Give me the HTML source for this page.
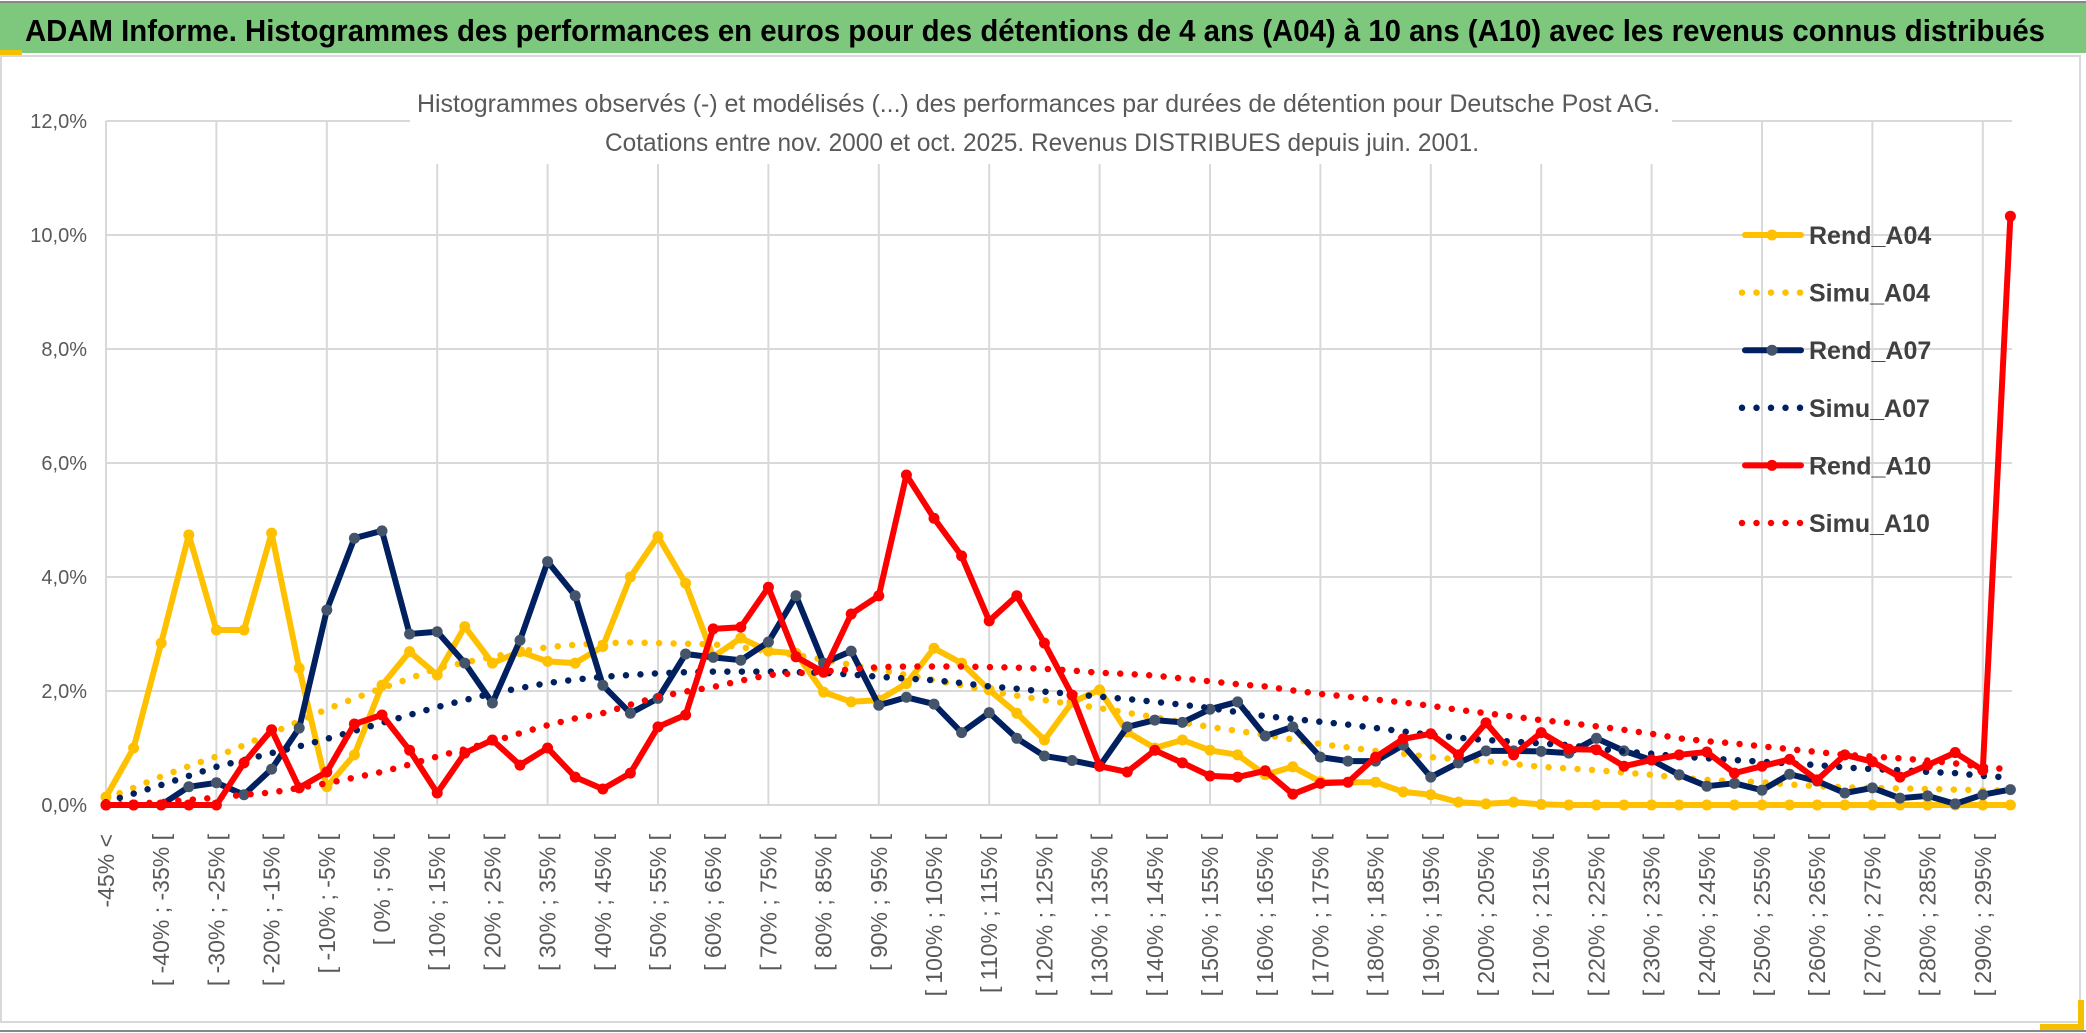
<!DOCTYPE html>
<html><head><meta charset="utf-8">
<style>
html,body{margin:0;padding:0;background:#fff;}
svg{display:block;font-family:"Liberation Sans",sans-serif;}
</style></head>
<body>
<svg id="chart" width="2086" height="1033" viewBox="0 0 2086 1033" xmlns="http://www.w3.org/2000/svg">
  <rect x="0" y="0" width="2086" height="1033" fill="#fff"/>
  <rect x="0" y="3" width="2086" height="50" fill="#7ec87e"/>
  <line x1="0" y1="2" x2="2086" y2="2" stroke="#888" stroke-width="2"/>
  <rect x="0" y="50" width="22" height="5" fill="#f5c000"/>
  <text x="25" y="41" font-size="31" font-weight="bold" fill="#000" textLength="2020" lengthAdjust="spacingAndGlyphs">ADAM Informe. Histogrammes des performances en euros pour des détentions de 4 ans (A04) à 10 ans (A10) avec les revenus connus distribués</text>
  <rect x="1" y="56" width="2079" height="966" fill="none" stroke="#d9d9d9" stroke-width="2"/>
  <line x1="0" y1="1031" x2="2086" y2="1031" stroke="#888" stroke-width="2"/>
  <rect x="2078" y="1000" width="6" height="30" fill="#f5c000"/>
  <rect x="2040" y="1024" width="44" height="6" fill="#f5c000"/>
  <g id="grid"></g>
  <rect x="410" y="76" width="1262" height="88" fill="#fff"/>
  <text x="417" y="112" font-size="25" fill="#595959" textLength="1243" lengthAdjust="spacingAndGlyphs">Histogrammes observés (-) et modélisés (...) des performances par durées de détention pour Deutsche Post AG.</text>
  <text x="605" y="151" font-size="25" fill="#595959" textLength="874" lengthAdjust="spacingAndGlyphs">Cotations entre nov. 2000 et oct. 2025. Revenus DISTRIBUES depuis juin. 2001.</text>
  <g id="yaxis"></g>
  <g id="xaxis"></g>
  <g id="series"></g>
  <g id="legend"></g>
</svg>
<script>
const categories = [];
categories.push('-45% <');
for (let v = -45; v < 300; v += 5) { categories.push('[ ' + v + '% ; ' + (v + 5) + '% ['); }
categories.length = 70;

const yTicks = [0, 2, 4, 6, 8, 10, 12];
const yTickLabels = ['0,0%', '2,0%', '4,0%', '6,0%', '8,0%', '10,0%', '12,0%'];

const rendA04 = [0.14,1.0,2.84,4.74,3.07,3.07,4.77,2.4,0.32,0.88,2.1,2.69,2.28,3.13,2.49,2.69,2.52,2.49,2.78,4.0,4.71,3.89,2.6,2.93,2.70,2.66,1.98,1.81,1.84,2.13,2.75,2.49,2.02,1.61,1.14,1.80,2.02,1.28,1.0,1.14,0.96,0.88,0.53,0.67,0.41,0.40,0.40,0.23,0.18,0.05,0.02,0.05,0.01,0,0,0,0,0,0,0,0,0,0,0,0,0,0,0,0,0];
const simuA04 = [0.12,0.3,0.5,0.68,0.85,1.05,1.26,1.47,1.68,1.87,2.05,2.22,2.4,2.5,2.6,2.69,2.77,2.81,2.84,2.85,2.84,2.83,2.82,2.77,2.7,2.63,2.55,2.46,2.37,2.28,2.19,2.1,2.0,1.92,1.84,1.77,1.70,1.62,1.54,1.45,1.37,1.3,1.23,1.15,1.07,1.01,0.95,0.9,0.84,0.8,0.77,0.72,0.67,0.64,0.61,0.57,0.53,0.48,0.44,0.42,0.40,0.36,0.33,0.31,0.30,0.29,0.28,0.27,0.26,0.25];
const rendA07 = [0,0,0,0.32,0.39,0.18,0.63,1.35,3.42,4.68,4.81,3.0,3.04,2.49,1.79,2.89,4.27,3.67,2.1,1.61,1.87,2.65,2.59,2.54,2.86,3.67,2.49,2.70,1.75,1.89,1.77,1.27,1.62,1.17,0.86,0.78,0.68,1.37,1.49,1.45,1.68,1.81,1.21,1.37,0.84,0.77,0.77,1.05,0.49,0.74,0.95,0.95,0.94,0.91,1.17,0.95,0.79,0.53,0.33,0.38,0.26,0.54,0.42,0.21,0.30,0.12,0.16,0.02,0.18,0.27];
const simuA07 = [0.05,0.2,0.35,0.51,0.67,0.79,0.91,1.03,1.16,1.3,1.44,1.58,1.72,1.84,1.96,2.05,2.14,2.2,2.25,2.28,2.31,2.33,2.34,2.34,2.34,2.33,2.32,2.29,2.25,2.22,2.19,2.14,2.08,2.04,1.99,1.95,1.9,1.86,1.81,1.76,1.70,1.63,1.56,1.51,1.46,1.41,1.35,1.29,1.23,1.18,1.14,1.11,1.08,1.05,0.99,0.94,0.9,0.85,0.82,0.79,0.76,0.73,0.7,0.66,0.63,0.61,0.58,0.56,0.51,0.48];
const rendA10 = [0,0,0,0,0,0.74,1.32,0.3,0.58,1.42,1.58,0.96,0.21,0.91,1.14,0.70,1.0,0.49,0.28,0.56,1.37,1.58,3.09,3.12,3.82,2.6,2.33,3.35,3.67,5.79,5.03,4.37,3.23,3.67,2.84,1.93,0.68,0.58,0.96,0.74,0.51,0.49,0.6,0.19,0.38,0.40,0.84,1.16,1.25,0.88,1.44,0.88,1.27,0.98,0.97,0.68,0.79,0.88,0.93,0.56,0.68,0.80,0.44,0.88,0.76,0.49,0.70,0.92,0.61,10.33];
const simuA10 = [0.0,0.02,0.05,0.09,0.13,0.18,0.22,0.3,0.38,0.48,0.58,0.71,0.85,0.98,1.11,1.26,1.4,1.52,1.61,1.76,1.9,1.99,2.07,2.18,2.28,2.31,2.34,2.38,2.42,2.43,2.43,2.43,2.42,2.41,2.39,2.36,2.32,2.3,2.27,2.22,2.17,2.12,2.08,2.01,1.95,1.9,1.85,1.8,1.74,1.67,1.61,1.55,1.49,1.44,1.38,1.32,1.25,1.17,1.12,1.08,1.03,0.98,0.93,0.88,0.85,0.82,0.78,0.73,0.67,0.62];

const seriesNames = ['Rend_A04','Simu_A04','Rend_A07','Simu_A07','Rend_A10','Simu_A10'];

const NS = 'http://www.w3.org/2000/svg';
const plotL = 106, plotR = 2012, plotT = 121, plotB = 805;
const step = 27.6;
const yMax = 12;
function xs(i) { return plotL + i * step; }
function ys(v) { return plotB - (v / yMax) * (plotB - plotT); }
function mk(tag, attrs, parent) {
  const el = document.createElementNS(NS, tag);
  for (const k in attrs) el.setAttribute(k, attrs[k]);
  parent.appendChild(el);
  return el;
}

const grid = document.getElementById('grid');
yTicks.forEach((t) => {
  const l = mk('line', {x1: plotL, x2: plotR, y1: ys(t), y2: ys(t), stroke: '#d9d9d9', 'stroke-width': 2}, grid);
  
  
});
for (let i = 0; i < categories.length; i += 4) {
  const l = mk('line', {x1: xs(i), x2: xs(i), y1: plotT, y2: plotB, stroke: '#d9d9d9', 'stroke-width': 2}, grid);
  
  
}

const yaxis = document.getElementById('yaxis');
yTicks.forEach((t, i) => {
  const tx = mk('text', {x: 87, y: ys(t) + 7, 'font-size': 20, fill: '#595959', 'text-anchor': 'end'}, yaxis);
  tx.textContent = yTickLabels[i];
  
  
});

const xaxis = document.getElementById('xaxis');
categories.forEach((c, i) => {
  if (i % 2 !== 0) return;
  const x = xs(i) + 8;
  const tx = mk('text', {x: x, y: 834, 'font-size': 23, fill: '#595959', 'text-anchor': 'end', transform: 'rotate(-90 ' + x + ' 834)'}, xaxis);
  tx.textContent = c;
  
  
});

const seriesG = document.getElementById('series');
function pts(arr) { return arr.map((v, i) => xs(i).toFixed(1) + ',' + ys(v).toFixed(1)).join(' '); }
function drawRend(arr, color, markerColor, name) {
  const g = mk('g', {}, seriesG);
  
  
  mk('polyline', {points: pts(arr), fill: 'none', stroke: color, 'stroke-width': 6, 'stroke-linejoin': 'round'}, g);
  arr.forEach((v, i) => {
    const c = mk('circle', {cx: xs(i), cy: ys(v), r: 5.5, fill: markerColor}, g);
    
    
  });
}
function drawSimu(arr, color, name) {
  const p = mk('polyline', {points: pts(arr), fill: 'none', stroke: color, 'stroke-width': 6.5, 'stroke-linecap': 'round', 'stroke-dasharray': '0 14.5'}, seriesG);
  
  
}
drawRend(rendA04, '#ffc000', '#ffc000', 'rend-a04-line');
drawSimu(simuA04, '#ffc000', 'simu-a04-line');
drawRend(rendA07, '#002060', '#44546a', 'rend-a07-line');
drawSimu(simuA07, '#002060', 'simu-a07-line');
drawRend(rendA10, '#ff0000', '#ff0000', 'rend-a10-line');
drawSimu(simuA10, '#ff0000', 'simu-a10-line');

const legend = document.getElementById('legend');
const legColors = ['#ffc000','#ffc000','#002060','#002060','#ff0000','#ff0000'];
const legMarker = ['#ffc000',null,'#44546a',null,'#ff0000',null];
seriesNames.forEach((n, i) => {
  const y = 235 + i * 57.6;
  const g = mk('g', {}, legend);
  
  
  if (legMarker[i]) {
    mk('line', {x1: 1745, x2: 1801, y1: y, y2: y, stroke: legColors[i], 'stroke-width': 6, 'stroke-linecap': 'round'}, g);
    mk('circle', {cx: 1772, cy: y, r: 5.5, fill: legMarker[i]}, g);
  } else {
    mk('line', {x1: 1742, x2: 1802, y1: y, y2: y, stroke: legColors[i], 'stroke-width': 6.5, 'stroke-linecap': 'round', 'stroke-dasharray': '0 14.5'}, g);
  }
  const t = mk('text', {x: 1809, y: y + 9, 'font-size': 25, fill: '#404040', 'font-weight': 'bold'}, g);
  t.textContent = n;
});
</script>
</body></html>
